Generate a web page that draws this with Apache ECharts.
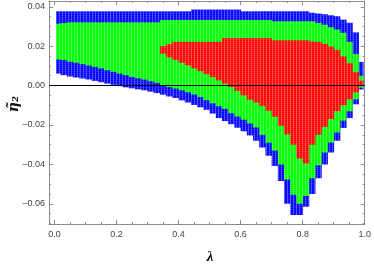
<!DOCTYPE html>
<html><head><meta charset="utf-8">
<script src="https://cdn.jsdelivr.net/npm/echarts@6/dist/echarts.min.js"></script>
<style>html,body{margin:0;padding:0;background:#fff}#c{width:374px;height:264px}</style>
</head><body><div id="c"></div>
<script>
const lambda = [0.01,0.03,0.05,0.07,0.09,0.11,0.13,0.15,0.17,0.19,
  0.21,0.23,0.25,0.27,0.29,0.31,0.33,0.35,0.37,0.39,
  0.41,0.43,0.45,0.47,0.49,0.51,0.53,0.55,0.57,0.59,
  0.61,0.63,0.65,0.67,0.69,0.71,0.73,0.75,0.77,0.79,
  0.81,0.83,0.85,0.87,0.89,0.91,0.93,0.95,0.97,0.99];
const lambdaExtent = [0.005, 0.995];
const blueTop = [0.0377,0.0377,0.0377,0.0377,0.0377,0.0377,0.0377,0.0377,0.0377,0.0377,
  0.0377,0.0377,0.0377,0.0377,0.0377,0.0377,0.0377,0.0377,0.0377,0.0377,
  0.0377,0.0377,0.0386,0.0386,0.0386,0.0386,0.0386,0.0386,0.0386,0.0386,
  0.0377,0.0377,0.0377,0.0377,0.0377,0.0377,0.0377,0.0377,0.0377,0.0377,
  0.0377,0.0370,0.0366,0.0362,0.0357,0.0352,0.0335,0.0319,0.0270,0.0120];
const greenTop = [0.0314,0.0317,0.0321,0.0321,0.0321,0.0321,0.0321,0.0321,0.0321,0.0321,
  0.0321,0.0321,0.0321,0.0321,0.0321,0.0321,0.0321,0.0333,0.0333,0.0333,
  0.0333,0.0333,0.0333,0.0333,0.0333,0.0333,0.0333,0.0333,0.0333,0.0333,
  0.0333,0.0333,0.0333,0.0333,0.0333,0.0326,0.0326,0.0326,0.0326,0.0326,
  0.0326,0.0326,0.0318,0.0309,0.0296,0.0284,0.0268,0.0222,0.0160,0.0050];
const redTop = [null,null,null,null,null,null,null,null,null,null,
  null,null,null,null,null,null,null,0.0200,0.0210,0.0222,
  0.0222,0.0222,0.0222,0.0222,0.0222,0.0222,0.0222,0.0241,0.0241,0.0241,
  0.0241,0.0241,0.0241,0.0241,0.0241,0.0230,0.0230,0.0230,0.0230,0.0230,
  0.0230,0.0224,0.0222,0.0212,0.0198,0.0181,0.0148,0.0114,0.0068,0.0025];
const redBot = [null,null,null,null,null,null,null,null,null,null,
  null,null,null,null,null,null,null,0.0162,0.0143,0.0130,
  0.0116,0.0102,0.0087,0.0073,0.0058,0.0043,0.0027,0.0010,-0.0007,-0.0027,
  -0.0050,-0.0072,-0.0086,-0.0104,-0.0128,-0.0158,-0.0204,-0.0248,-0.0300,-0.0370,
  -0.0395,-0.0300,-0.0250,-0.0210,-0.0170,-0.0130,-0.0100,-0.0070,-0.0035,0.0000];
const greenBot = [0.0133,0.0130,0.0121,0.0116,0.0109,0.0102,0.0095,0.0087,0.0078,0.0070,
  0.0061,0.0053,0.0044,0.0037,0.0031,0.0022,0.0014,0.0002,-0.0007,-0.0015,
  -0.0024,-0.0034,-0.0045,-0.0058,-0.0074,-0.0090,-0.0105,-0.0118,-0.0140,-0.0157,
  -0.0173,-0.0192,-0.0212,-0.0250,-0.0290,-0.0330,-0.0400,-0.0477,-0.0554,-0.0600,
  -0.0560,-0.0470,-0.0405,-0.0340,-0.0289,-0.0238,-0.0178,-0.0130,-0.0070,-0.0010];
const blueBot = [0.0061,0.0053,0.0046,0.0041,0.0036,0.0031,0.0024,0.0017,0.0010,0.0004,
  -0.0003,-0.0009,-0.0014,-0.0019,-0.0024,-0.0031,-0.0038,-0.0046,-0.0055,-0.0063,
  -0.0075,-0.0086,-0.0098,-0.0110,-0.0123,-0.0142,-0.0165,-0.0180,-0.0196,-0.0214,
  -0.0232,-0.0253,-0.0280,-0.0314,-0.0356,-0.0408,-0.0484,-0.0600,-0.0657,-0.0657,
  -0.0615,-0.0550,-0.0470,-0.0400,-0.0340,-0.0280,-0.0215,-0.0165,-0.0095,-0.0020];

const xMajorTicks = [0, 0.2, 0.4, 0.6, 0.8, 1.0];
const xMinorTicks = [0.05,0.1,0.15,0.25,0.3,0.35,0.45,0.5,0.55,0.65,0.7,0.75,0.85,0.9,0.95];
const yMajorTicks = [-0.06, -0.04, -0.02, 0, 0.02, 0.04];
const yMinorTicks = [-0.07,-0.065,-0.055,-0.05,-0.045,-0.035,-0.03,-0.025,-0.015,-0.01,-0.005,0.005,0.01,0.015,0.025,0.03,0.035];
const xTitle = 'λ';
const yTitle = 'η̃₂';

const X_MIN = -0.0175, X_MAX = 1.0, Y_MIN = -0.07026, Y_MAX = 0.04294;
const FRAME = '#8c8c8c', LABEL = '#444';

function makePattern(rgb) {
  const c = document.createElement('canvas'); c.width = 3; c.height = 2;
  const ctx = c.getContext('2d');
  ctx.fillStyle = rgb; ctx.fillRect(0, 0, 3, 2);
  ctx.fillStyle = 'rgba(255,255,255,0.30)'; ctx.fillRect(2, 0, 1, 2);
  ctx.fillStyle = 'rgba(255,255,255,0.10)'; ctx.fillRect(0, 1, 2, 1);
  return { image: c, repeat: 'repeat' };
}

function colRender(fill) {
  return function (params, api) {
    const lam = api.value(0), lo = api.value(1), hi = api.value(2);
    const x0 = Math.max(lam - 0.01, lambdaExtent[0]);
    const x1 = Math.min(lam + 0.01, lambdaExtent[1]);
    const p0 = api.coord([x0, hi]);
    const p1 = api.coord([x1, lo]);
    return {
      type: 'rect',
      shape: { x: p0[0], y: p0[1], width: p1[0] - p0[0] + 0.4, height: p1[1] - p0[1] },
      style: { fill: fill }
    };
  };
}

function band(lo, hi) {
  const out = [];
  lambda.forEach((l, i) => { if (lo[i] != null && hi[i] != null) out.push([l, lo[i], hi[i]]); });
  return out;
}

function fmtY(v) {
  const s = Math.abs(v).toFixed(2);
  return (v < -1e-9 ? '\u2013' : '') + s;
}

function xAx(position, ticks, len, showLine, showLabel) {
  return {
    type: 'value', position: position, min: X_MIN, max: X_MAX, gridIndex: 0,
    axisLine: { show: showLine, onZero: false, lineStyle: { color: FRAME, width: 1 } },
    axisTick: { show: true, inside: true, length: len, customValues: ticks, lineStyle: { color: FRAME, width: 1 } },
    axisLabel: showLabel ? { show: true, customValues: ticks, formatter: v => v.toFixed(1), color: LABEL,
      fontFamily: 'Liberation Sans', fontSize: 9, margin: 6 } : { show: false },
    splitLine: { show: false }
  };
}
function yAx(position, ticks, len, showLine, showLabel) {
  return {
    type: 'value', position: position, min: Y_MIN, max: Y_MAX, gridIndex: 0,
    axisLine: { show: showLine, onZero: false, lineStyle: { color: FRAME, width: 1 } },
    axisTick: { show: true, inside: true, length: len, customValues: ticks, lineStyle: { color: FRAME, width: 1 } },
    axisLabel: showLabel ? { show: true, customValues: ticks, formatter: fmtY, color: LABEL,
      fontFamily: 'Liberation Sans', fontSize: 9, margin: 4 } : { show: false },
    splitLine: { show: false }
  };
}

const chart = echarts.init(document.getElementById('c'), null, { renderer: 'canvas' });
chart.setOption({
  animation: false,
  backgroundColor: '#fff',
  grid: { left: 49, right: 6, top: 1, bottom: 40, containLabel: false },
  xAxis: [
    xAx('bottom', xMajorTicks, 4, true, true),
    xAx('bottom', xMinorTicks, 2, false, false),
    xAx('top', xMajorTicks, 4, true, false),
    xAx('top', xMinorTicks, 2, false, false)
  ],
  yAxis: [
    yAx('left', yMajorTicks, 4, true, true),
    yAx('left', yMinorTicks, 2, false, false),
    yAx('right', yMajorTicks, 4, true, false),
    yAx('right', yMinorTicks, 2, false, false)
  ],
  graphic: [
    { type: 'text', x: 210, y: 257, style: { text: xTitle, font: 'italic bold 15px "Liberation Serif"', fill: '#111', align: 'center', verticalAlign: 'middle' } },
    { type: 'text', x: 14, y: 104, rotation: Math.PI / 2, style: { text: yTitle, font: 'italic bold 14px "DejaVu Serif"', fill: '#111', align: 'center', verticalAlign: 'middle' } }
  ],
  series: [
    { type: 'custom', name: 'blue', xAxisIndex: 0, yAxisIndex: 0, z: 2, clip: true,
      renderItem: colRender(makePattern('#0000ff')), encode: { x: 0, y: [1, 2] }, data: band(blueBot, blueTop) },
    { type: 'custom', name: 'green', xAxisIndex: 0, yAxisIndex: 0, z: 3, clip: true,
      renderItem: colRender(makePattern('#00ff00')), encode: { x: 0, y: [1, 2] }, data: band(greenBot, greenTop) },
    { type: 'custom', name: 'red', xAxisIndex: 0, yAxisIndex: 0, z: 4, clip: true,
      renderItem: colRender(makePattern('#ff0000')), encode: { x: 0, y: [1, 2] }, data: band(redBot, redTop),
      markLine: { silent: true, symbol: 'none', z: 10, label: { show: false },
        lineStyle: { color: '#000', width: 1, type: 'solid' }, data: [{ yAxis: 0 }] } }
  ]
});
</script></body></html>
